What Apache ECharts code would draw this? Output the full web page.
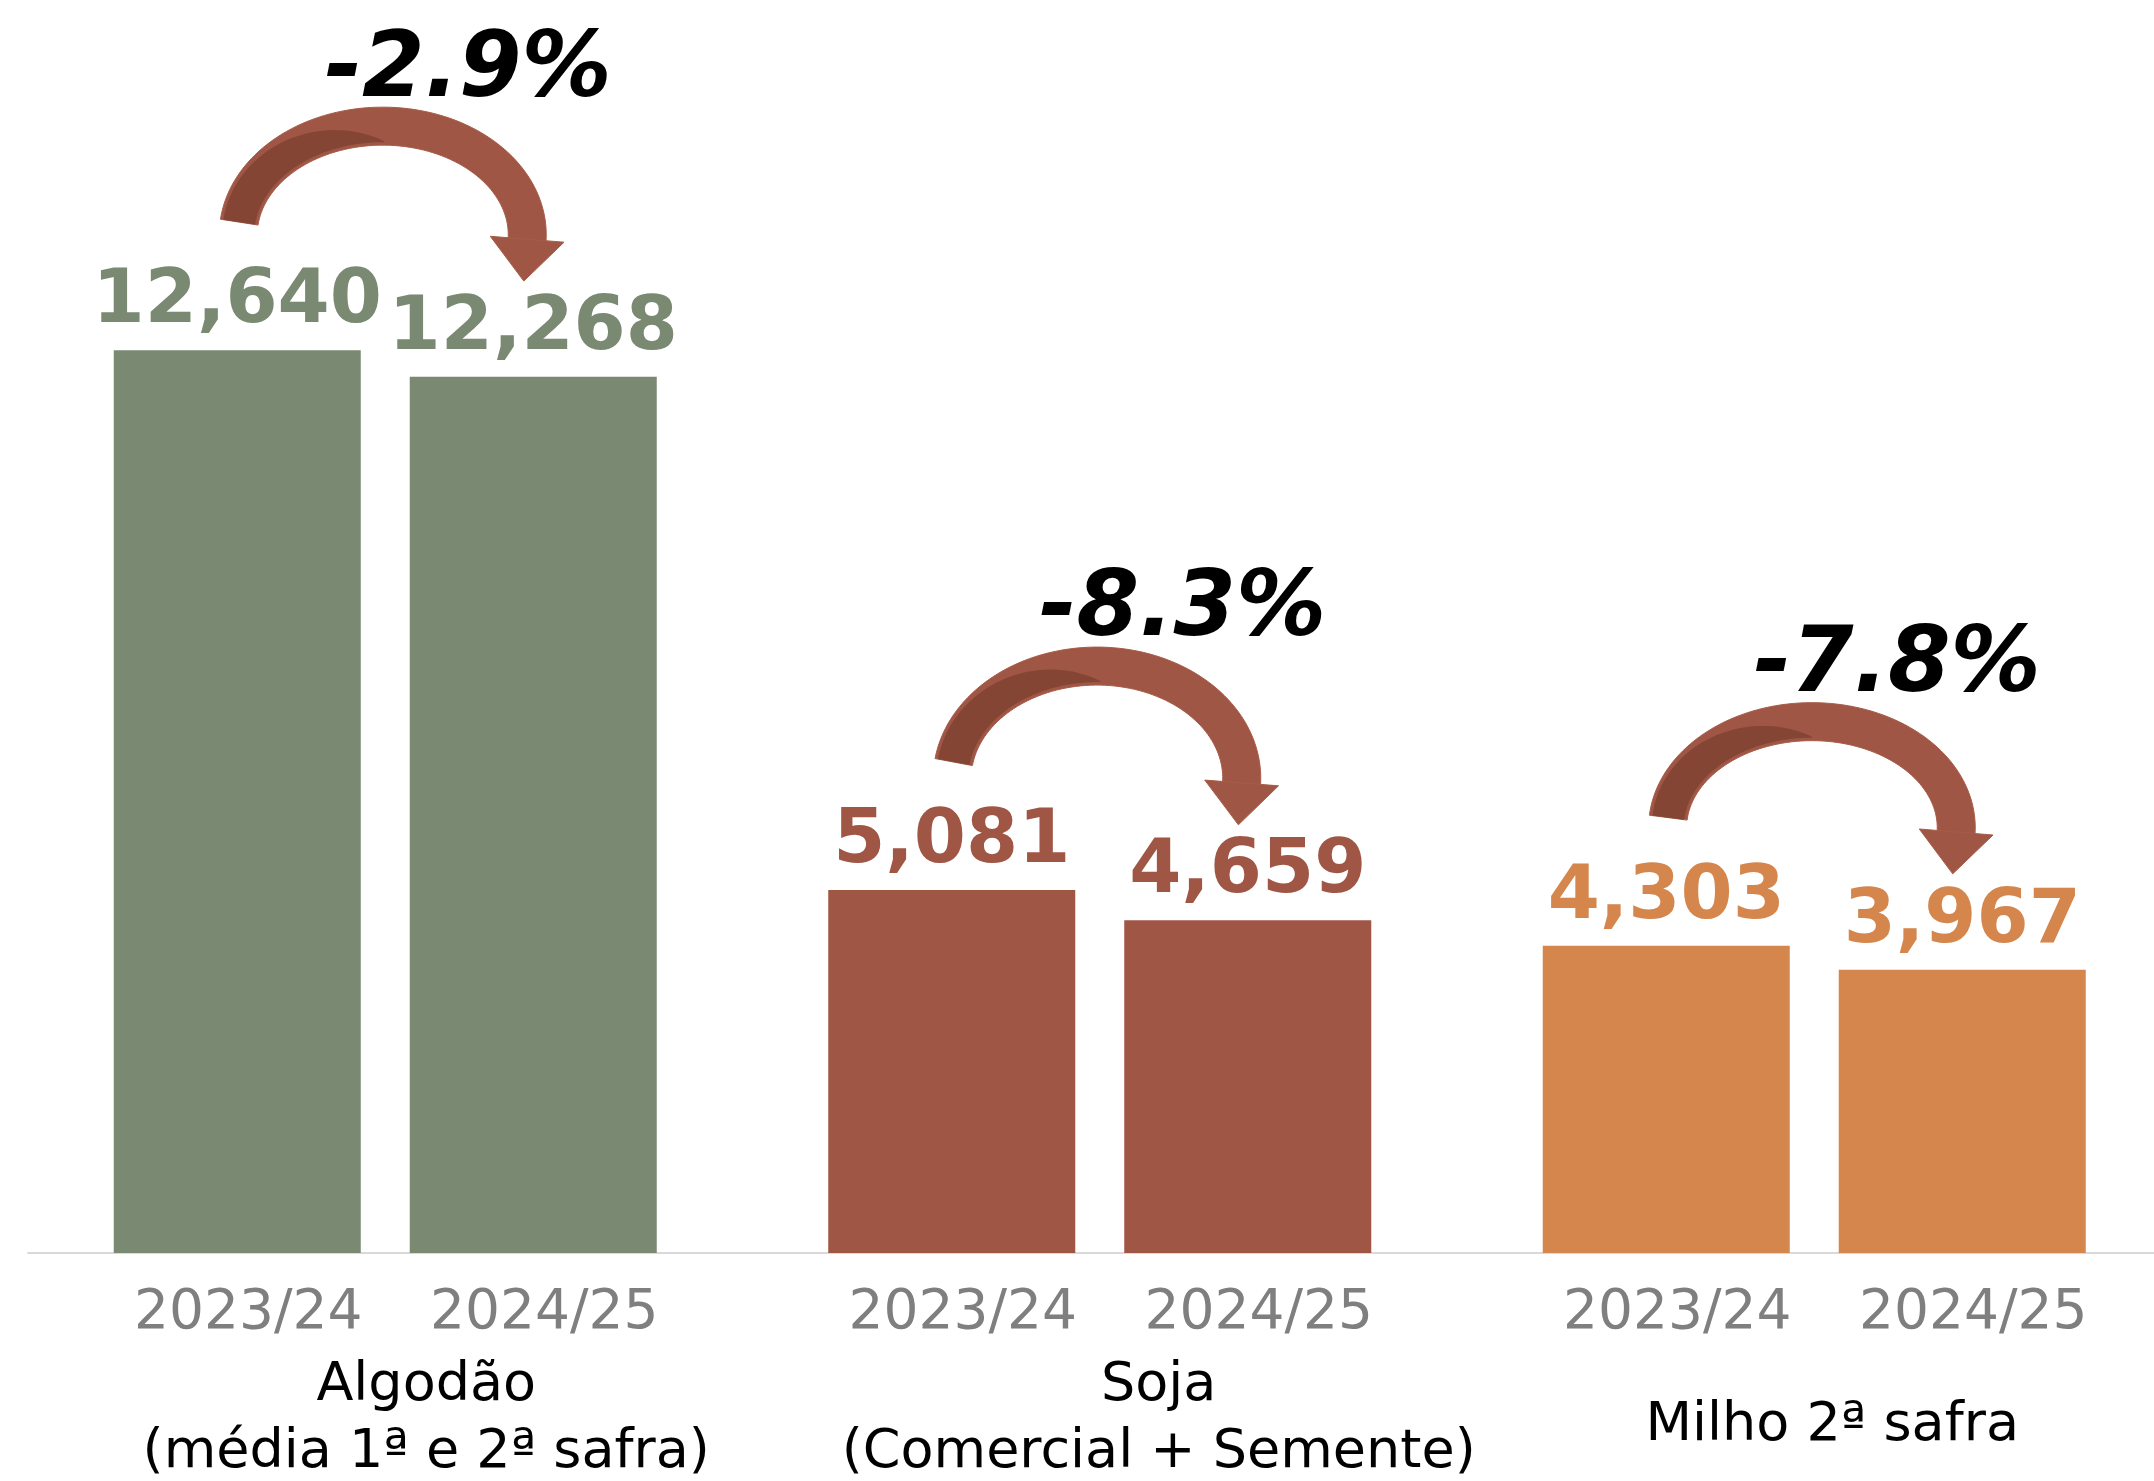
<!DOCTYPE html>
<html><head><meta charset="utf-8">
<script src="https://cdn.jsdelivr.net/npm/echarts@6/dist/echarts.min.js"></script>
<style>html,body{margin:0;padding:0;background:#fff}#c{width:2154px;height:1481px}</style>
</head><body><div id="c"></div>
<script>
// ---- data ----
const CATEGORIES = ['Algodão\n(média 1ª e 2ª safra)', 'Soja\n(Comercial + Semente)', 'Milho 2ª safra'];
const YEARS = ['2023/24', '2024/25'];
const VALUES_2023_24 = [12640, 5081, 4303];
const VALUES_2024_25 = [12268, 4659, 3967];
const CHANGE_LABELS = ['-2.9%', '-8.3%', '-7.8%'];

// ---- layout / styles ----
const COLORS = ['#7A8972', '#A05644', '#D4864C'];
const LABEL_PADDING = [[0, 0, 0, 82], [0, 0, 0, 118], [40, 0, 0, 36]];
const ARROW_LIGHT = '#A05644', ARROW_DARK = '#844535';
const FONT = '"DejaVu Sans", Verdana, sans-serif';
const BAR_W = 247, BAR_GAP = 49, OFF = (BAR_W + BAR_GAP) / 2;

function renderArrow(params, api) {
  const i = api.value(0), v1 = api.value(1), v2 = api.value(2);
  const top1 = api.coord([i, v1]), top2 = api.coord([i, v2]), base = api.coord([i, 0]);
  const gx = top1[0];
  const b1x = gx - OFF, b2x = gx + OFF;
  const T = [b1x + 2, top1[1] - 128];
  const H = [b2x - 6, top2[1] - 142];
  const peak = T[1] - 96;
  const cyE = H[1], ry = cyE - peak;
  const th1 = Math.asin(Math.max(-1, Math.min(1, (cyE - T[1]) / ry)));
  const rx = (H[0] - T[0]) / (1 + Math.cos(th1));
  const cxE = H[0] - rx;
  const th2 = Math.PI + 0.06;
  const pt = th => [cxE - rx * Math.cos(th), cyE - ry * Math.sin(th)];
  const dv = th => [rx * Math.sin(th), -ry * Math.cos(th)];
  const W = 38, N = 80;
  const inner = [], outer = [], dA = [], dB = [];
  for (let k = 0; k <= N; k++) {
    const s = k / N;
    const th = th1 + (th2 - th1) * s;
    const p = pt(th), d = dv(th);
    const L = Math.hypot(d[0], d[1]);
    const n = [-d[1] / L, d[0] / L];
    inner.push([p[0] + n[0]*W/2, p[1] + n[1]*W/2]);
    outer.push([p[0] - n[0]*W/2, p[1] - n[1]*W/2]);
    if (s <= 0.48) {
      const f = 1 - Math.pow(s / 0.48, 3);
      const a = [p[0] + n[0]*(W/2 - 3), p[1] + n[1]*(W/2 - 3)];
      dA.push(a);
      dB.push([a[0] - n[0]*(W - 6)*f, a[1] - n[1]*(W - 6)*f]);
    }
  }
  const E = pt(th2), dE = dv(th2);
  const Le = Math.hypot(dE[0], dE[1]);
  const dir = [dE[0] / Le, dE[1] / Le];
  const perp = [-dir[1], dir[0]];
  const tip = [E[0] + dir[0]*40, E[1] + dir[1]*40];
  const hb = [E[0] - dir[0]*2, E[1] - dir[1]*2];
  const head = [tip, [hb[0] + perp[0]*37, hb[1] + perp[1]*37], [hb[0] - perp[0]*37, hb[1] - perp[1]*37]];
  const yearY = base[1] + 61;
  return {
    type: 'group',
    children: [
      { type: 'polygon', shape: { points: inner.concat(outer.slice().reverse()) },
        style: { fill: ARROW_LIGHT, stroke: '#A85C49', lineWidth: 1 } },
      { type: 'polygon', shape: { points: dA.concat(dB.slice().reverse()) },
        style: { fill: ARROW_DARK } },
      { type: 'polygon', shape: { points: head }, style: { fill: ARROW_LIGHT, stroke: '#A85C49', lineWidth: 1 } },
      { type: 'text', x: gx + 83, y: T[1] - 150,
        style: { text: CHANGE_LABELS[i], fill: '#000', font: 'italic bold 90px ' + FONT,
                 align: 'center', verticalAlign: 'middle',
                 shadowColor: 'rgba(0,0,0,0.45)', shadowBlur: 6, shadowOffsetX: 4, shadowOffsetY: 4 } },
      { type: 'text', x: b1x + 11, y: yearY,
        style: { text: YEARS[0], fill: '#7F7F7F', font: '55px ' + FONT, align: 'center', verticalAlign: 'middle' } },
      { type: 'text', x: b2x + 11, y: yearY,
        style: { text: YEARS[1], fill: '#7F7F7F', font: '55px ' + FONT, align: 'center', verticalAlign: 'middle' } }
    ]
  };
}

function barData(values) {
  return values.map((v, i) => ({ value: v, itemStyle: { color: COLORS[i] }, label: { color: COLORS[i] } }));
}

const chart = echarts.init(document.getElementById('c'), null, { renderer: 'canvas' });
chart.setOption({
  animation: false,
  backgroundColor: '#fff',
  grid: { left: 28, width: 2143.5, top: 253, bottom: 228, containLabel: false, outerBoundsMode: 'none' },
  xAxis: {
    type: 'category',
    data: CATEGORIES.map((c, i) => ({ value: c, textStyle: { padding: LABEL_PADDING[i], verticalAlign: 'top' } })),
    axisTick: { show: false },
    axisLine: { lineStyle: { color: '#D9D9D9', width: 2 } },
    axisLabel: { interval: 0, color: '#000', fontFamily: FONT, fontSize: 54, lineHeight: 67,
                 margin: 99, verticalAlign: 'top' }
  },
  yAxis: { type: 'value', min: 0, max: 14000, show: false, splitLine: { show: false } },
  series: [
    { name: YEARS[0], type: 'bar', barWidth: BAR_W, barGap: (BAR_GAP / BAR_W * 100) + '%',
      data: barData(VALUES_2023_24),
      label: { show: true, position: 'top', distance: 10, fontFamily: FONT, fontWeight: 'bold', fontSize: 75,
               formatter: p => p.value.toLocaleString('en-US') } },
    { name: YEARS[1], type: 'bar', barWidth: BAR_W,
      data: barData(VALUES_2024_25),
      label: { show: true, position: 'top', distance: 10, fontFamily: FONT, fontWeight: 'bold', fontSize: 75,
               formatter: p => p.value.toLocaleString('en-US') } },
    { type: 'custom', renderItem: renderArrow, clip: false, z: 5,
      encode: { x: 0, y: 1 },
      data: CATEGORIES.map((c, i) => [i, VALUES_2023_24[i], VALUES_2024_25[i]]) }
  ]
});
</script></body></html>
